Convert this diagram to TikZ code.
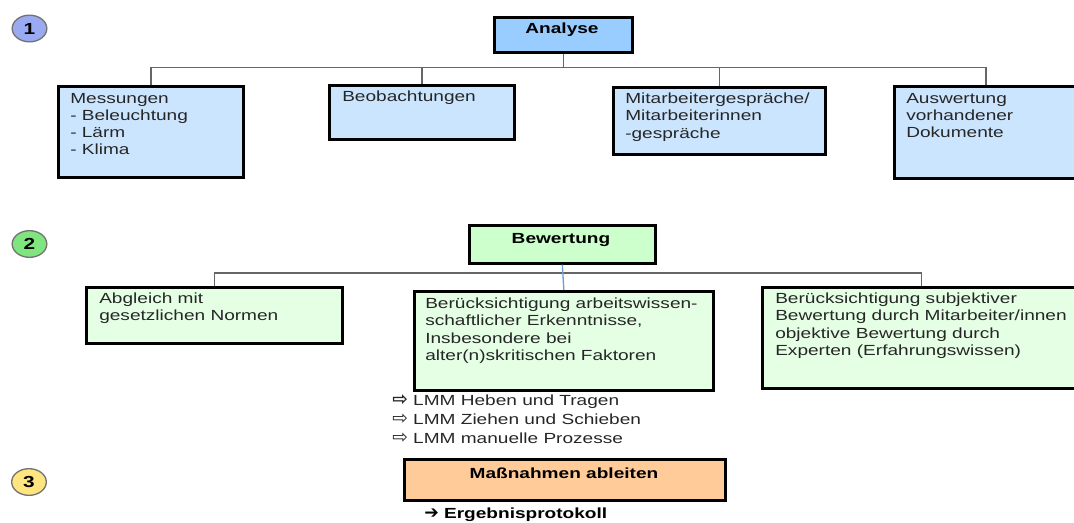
\documentclass[tikz,border=0pt]{standalone}
\usepackage{fontspec}
\setmainfont{Liberation Sans}[FakeStretch=1.3]
\newfontfamily\arrowfont{DejaVu Sans}
\usetikzlibrary{shapes.geometric}
\definecolor{numblue}{HTML}{9AAAF2}
\definecolor{numgreen}{HTML}{7FE67F}
\definecolor{numyellow}{HTML}{FFE57F}
\definecolor{anablue}{HTML}{99CCFF}
\definecolor{anasub}{HTML}{CCE5FF}
\definecolor{bewgreen}{HTML}{CCFFCC}
\definecolor{bewsub}{HTML}{E5FFE5}
\definecolor{massorange}{HTML}{FFCC99}
\definecolor{stemblue}{HTML}{6A9FD4}
\newcommand{\listarrow}{{\arrowfont\fontsize{14}{14}\selectfont ⇨}}

\begin{document}
\begin{tikzpicture}[x=0.75pt,y=0.75pt,yscale=-1,xscale=1,
	box/.style={draw=black, line width=2pt, anchor=north west, inner sep=0pt},
	txt/.style={anchor=north west, inner sep=0pt, align=left, text=black!85, font=\fontsize{11}{12.8}\selectfont},
	title/.style={inner sep=0pt, font=\bfseries\fontsize{11}{12.8}\selectfont},
	num/.style={ellipse, draw=black!55, line width=1pt, minimum width=26pt, minimum height=20pt, inner sep=0pt, font=\bfseries\fontsize{12}{12}\selectfont},
	conn/.style={draw=black!60, line width=1pt}]
			\useasboundingbox (0,0) rectangle (1074,522);
			\clip (0,0) rectangle (1074,522);
			% Step circles
			\node[num, fill=numblue] (one) at (29.5,28.5) {1};
			\node[num, fill=numgreen] (two) at (29.5,244) {2};
			\node[num, fill=numyellow] (three) at (29,482) {3};
			%Shape: Rectangle Analyse
			\node[box, fill=anablue, minimum width=103.5pt, minimum height=26.25pt] (ana) at (493,16) {};
			\node[title] (anaT) at (562,29.5) {Analyse};
			%Shape: Rectangle Messungen
			\node[box, fill=anasub, minimum width=138.75pt, minimum height=68.25pt] (mess) at (57,85) {};
			%Shape: Rectangle Beobachtungen
			\node[box, fill=anasub, minimum width=138.75pt, minimum height=40.5pt] (beob) at (328,84) {};
			%Shape: Rectangle Mitarbeitergespraeche
			\node[box, fill=anasub, minimum width=159pt, minimum height=50.25pt] (mitarb) at (612,86) {};
			%Shape: Rectangle Auswertung
			\node[box, fill=anasub, minimum width=137.25pt, minimum height=69pt] (auswert) at (893,85) {};
			% Text Node
			\node[txt] (messT) at (70,93) {Messungen\\- Beleuchtung\\- Lärm\\- Klima};
			% Text Node
			\node[txt] (beobT) at (342,91) {Beobachtungen};
			% Text Node
			\node[txt] (mitarbT) at (625,93) {Mitarbeitergespräche/\\Mitarbeiterinnen\\-gespräche};
			% Text Node
			\node[txt] (auswertT) at (906,93) {Auswertung\\vorhandener\\Dokumente};
			%Straight Lines Analyse
			\coordinate (busA) at (562,67.5);
			\draw[conn] (ana.south) -- (ana.south |- busA);
			\draw[conn] (mess.north) -- (mess.north |- busA) -- (auswert.north |- busA) -- (auswert.north);
			\draw[conn] (beob.north) -- (beob.north |- busA);
			\draw[conn] (mitarb.north) -- (mitarb.north |- busA);
			%Shape: Rectangle Bewertung
			\node[box, fill=bewgreen, minimum width=139.5pt, minimum height=28.5pt] (bew) at (468,224) {};
			\node[title] (bewT) at (561,240) {Bewertung};
			%Shape: Rectangle Abgleich
			\node[box, fill=bewsub, minimum width=192pt, minimum height=42pt] (abgl) at (85,286) {};
			%Shape: Rectangle Beruecksichtigung
			\node[box, fill=bewsub, minimum width=224.25pt, minimum height=74.25pt] (berueck) at (413,290) {};
			%Shape: Rectangle subjektiv
			\node[box, fill=bewsub, minimum width=238.5pt, minimum height=75.75pt] (subj) at (761,286) {};
			% Text Node
			\node[txt] (abglT) at (99,293) {Abgleich mit\\gesetzlichen Normen};
			% Text Node
			\node[txt] (bereuckT) at (425,298) {Berücksichtigung arbeitswissen-\\schaftlicher Erkenntnisse,\\Insbesondere bei\\alter(n)skritischen Faktoren};
			% Text Node
			\node[txt] (subjT) at (775,293) {Berücksichtigung subjektiver\\Bewertung durch Mitarbeiter/innen\\objektive Bewertung durch\\Experten (Erfahrungswissen)};
			%Straight Lines Bewertung
			\coordinate (busB) at (562,273);
			\draw[conn] (abgl.north) -- (abgl.north |- busB) -- (subj.north |- busB) -- (subj.north);
			\draw[draw=stemblue, line width=1pt] (bew.south) -- (berueck.north);
			% Text Node
			\node[txt, font=\fontsize{11}{14.5}\selectfont] (lmmT) at (392,394) {{\bfseries\listarrow} LMM Heben und Tragen\\\listarrow{} LMM Ziehen und Schieben\\\listarrow{} LMM manuelle Prozesse};
			%Shape: Rectangle Massnahmen
			\node[box, fill=massorange, minimum width=240.75pt, minimum height=30.75pt] (mass) at (403,458) {};
			\node[title] (massT) at (564,473.5) {Maßnahmen ableiten};
			% Text Node
			\node[title, anchor=west] (ergT) at (424,515) {{\arrowfont\fontsize{13}{13}\selectfont ➔} Ergebnisprotokoll};
		\end{tikzpicture}
\end{document}
